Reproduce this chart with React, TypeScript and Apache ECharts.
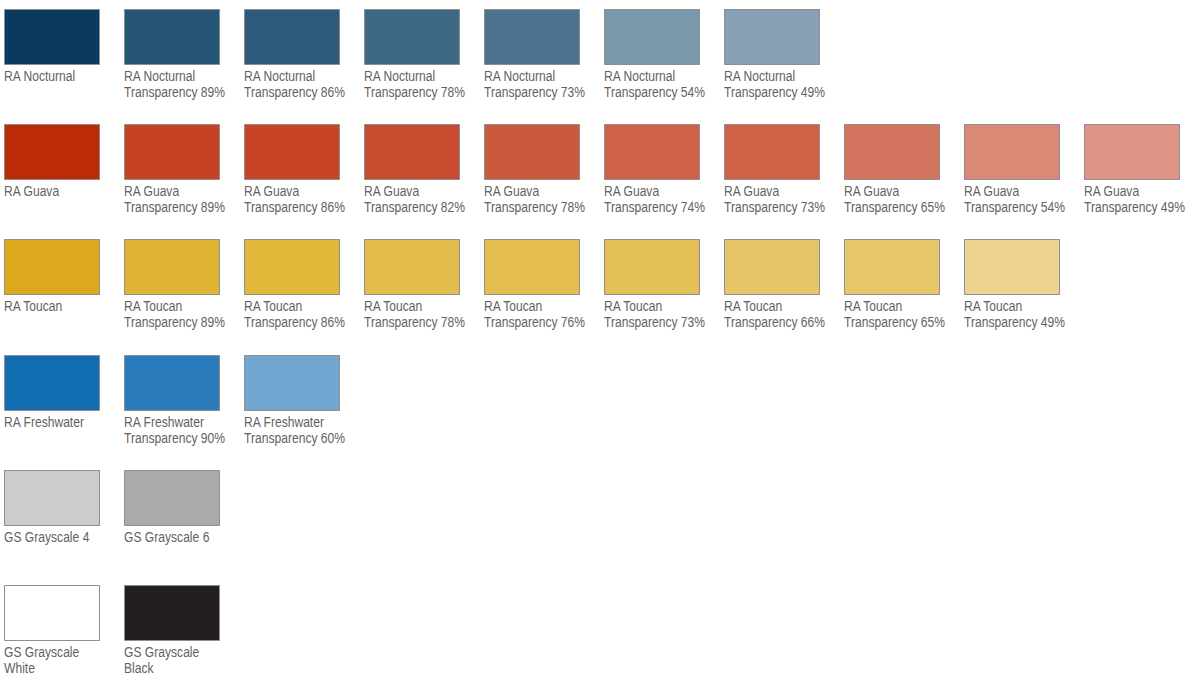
import React, { useEffect, useRef } from "react";
import * as echarts from "echarts";

const nocturnalColors = ["#0b3a5f", "#265576", "#2d5a7a", "#3f6786", "#4b728e", "#7a97ac", "#87a0b5"];
const nocturnalLabels = ["RA Nocturnal", "RA Nocturnal\nTransparency 89%", "RA Nocturnal\nTransparency 86%", "RA Nocturnal\nTransparency 78%", "RA Nocturnal\nTransparency 73%", "RA Nocturnal\nTransparency 54%", "RA Nocturnal\nTransparency 49%"];

const guavaColors = ["#bd2a06", "#c44123", "#c74427", "#c84b2f", "#ca5a3b", "#d06249", "#cf6247", "#d3745f", "#db8877", "#de9585"];
const guavaLabels = ["RA Guava", "RA Guava\nTransparency 89%", "RA Guava\nTransparency 86%", "RA Guava\nTransparency 82%", "RA Guava\nTransparency 78%", "RA Guava\nTransparency 74%", "RA Guava\nTransparency 73%", "RA Guava\nTransparency 65%", "RA Guava\nTransparency 54%", "RA Guava\nTransparency 49%"];

const toucanColors = ["#dba91b", "#dfb334", "#e1b73a", "#e3bd4c", "#e3bd4f", "#e3c055", "#e5c565", "#e5c668", "#ecd48f"];
const toucanLabels = ["RA Toucan", "RA Toucan\nTransparency 89%", "RA Toucan\nTransparency 86%", "RA Toucan\nTransparency 78%", "RA Toucan\nTransparency 76%", "RA Toucan\nTransparency 73%", "RA Toucan\nTransparency 66%", "RA Toucan\nTransparency 65%", "RA Toucan\nTransparency 49%"];

const freshwaterColors = ["#126cb0", "#2a7bbb", "#70a6cf"];
const freshwaterLabels = ["RA Freshwater", "RA Freshwater\nTransparency 90%", "RA Freshwater\nTransparency 60%"];

const grayColors = ["#cccccc", "#aaaaaa"];
const grayLabels = ["GS Grayscale 4", "GS Grayscale 6"];

const bwColors = ["#ffffff", "#231f20"];
const bwLabels = ["GS Grayscale\nWhite", "GS Grayscale\nBlack"];

const rowColors = [nocturnalColors, guavaColors, toucanColors, freshwaterColors, grayColors, bwColors];
const rowLabels = [nocturnalLabels, guavaLabels, toucanLabels, freshwaterLabels, grayLabels, bwLabels];

export default function App() {
  const ref = useRef<HTMLDivElement>(null);
  useEffect(() => {
    if (!ref.current) return;
    const chart = echarts.init(ref.current, undefined, { renderer: "svg" });
    const cells: { value: number[]; color: string; label: string }[] = [];
    rowColors.forEach((cols, r) => {
      cols.forEach((c, i) => {
        cells.push({ value: [i, r], color: c, label: rowLabels[r][i] });
      });
    });
    const font = '14.5px "Liberation Sans", Arial, sans-serif';
    chart.setOption({
      animation: false,
      backgroundColor: "#ffffff",
      grid: { left: 4, top: 9, width: 1080, height: 576 },
      xAxis: { type: "value", min: 0, max: 9, show: false },
      yAxis: { type: "value", min: 0, max: 5, inverse: true, show: false },
      series: [
        {
          type: "custom",
          coordinateSystem: "cartesian2d",
          data: cells.map((c) => c.value),
          renderItem: (params: any, api: any) => {
            const p = api.coord([api.value(0), api.value(1)]);
            const cell = cells[params.dataIndex];
            return {
              type: "group",
              children: [
                {
                  type: "rect",
                  shape: { x: Math.round(p[0]) + 0.5, y: Math.round(p[1]) + 0.5, width: 95, height: 55 },
                  style: { fill: cell.color, stroke: "#8f8f8f", lineWidth: 1 },
                },
                {
                  type: "text",
                  x: Math.round(p[0]),
                  y: Math.round(p[1]) + 59,
                  scaleX: 0.835,
                  style: {
                    x: 0,
                    y: 0,
                    text: cell.label,
                    font,
                    fill: "#626262",
                    lineHeight: 16,
                    verticalAlign: "top",
                    align: "left",
                  },
                },
              ],
            };
          },
        },
      ],
    });
    return () => chart.dispose();
  }, []);
  return (
    <div
      ref={ref}
      style={{ position: "fixed", left: 0, top: 0, width: 1193, height: 681, background: "#fff" }}
    />
  );
}
